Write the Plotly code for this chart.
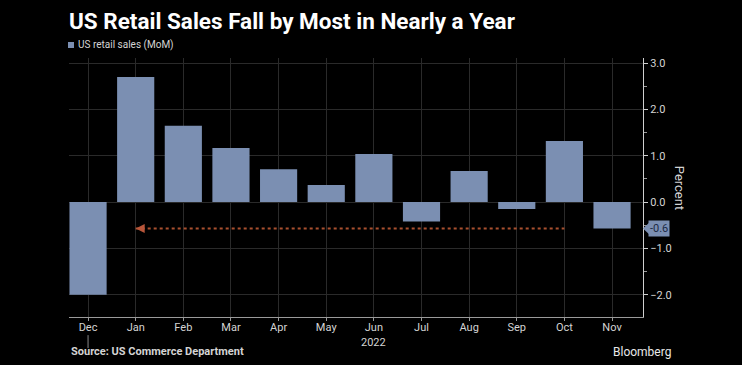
import plotly.graph_objects as go

months = ["Dec", "Jan", "Feb", "Mar", "Apr", "May", "Jun", "Jul", "Aug", "Sep", "Oct", "Nov"]
retail_mom = [-2.0, 2.7, 1.65, 1.17, 0.71, 0.37, 1.04, -0.42, 0.67, -0.15, 1.32, -0.57]
y_ticks = [-2.0, -1.0, 0.0, 1.0, 2.0, 3.0]
year_label = "2022"
series_name = "US retail sales (MoM)"
latest_label = f"{retail_mom[-1]:.1f}"

BAR = "#7b8fb2"
GRID = "#2a2a2a"
TXT = "#d4d4d4"
FONT = "Roboto, Liberation Sans, sans-serif"

# page has an 8px body margin; figure sized to fill the rest of the window
W, H = 734, 357

fig = go.Figure()
fig.add_trace(go.Bar(x=months, y=retail_mom, name=series_name, marker_color=BAR,
                     marker_line_width=0, showlegend=False))
# dotted reference line at latest value from Jan to Oct
fig.add_trace(go.Scatter(x=[months[1], months[10]], y=[retail_mom[-1]] * 2, mode="lines",
                         line=dict(color="#a9502f", width=2, dash="dot"),
                         showlegend=False, hoverinfo="skip"))
fig.add_annotation(x=months[1], y=retail_mom[-1], ax=8, ay=0, axref="pixel", ayref="pixel",
                   showarrow=True, arrowhead=2, arrowsize=1.2, arrowwidth=1.5,
                   arrowcolor="#b8563a", text="")

# legend (drawn manually)
fig.add_shape(type="rect", xref="paper", yref="paper", x0=-0.0017, x1=0.0087,
              y0=(317 - 48) / 259, y1=(317 - 42) / 259, fillcolor=BAR, line_width=0)
fig.add_annotation(xref="paper", yref="paper", x=0.012, y=(317 - 45) / 259, xanchor="left",
                   yanchor="middle", text=series_name, showarrow=False,
                   font=dict(family=FONT, size=10, color=TXT))

# latest value label on right axis
fig.add_annotation(xref="paper", yref="y", x=1.0, y=retail_mom[-1], xanchor="left",
                   yanchor="middle", xshift=5, text=latest_label, showarrow=False,
                   font=dict(family=FONT, size=11, color="#1c2a44"),
                   bgcolor=BAR, borderpad=1)
fig.add_shape(type="path", xref="paper", yref="y",
              path=f"M 1.0 {retail_mom[-1]} L 1.011 {retail_mom[-1] + 0.13} L 1.011 {retail_mom[-1] - 0.13} Z",
              fillcolor=BAR, line_width=0)

fig.add_annotation(xref="paper", yref="paper", x=1.064, y=0.5, text="Percent",
                   textangle=90, showarrow=False, xanchor="center", yanchor="middle",
                   font=dict(family=FONT, size=13, color=TXT))
fig.add_annotation(xref="x", yref="paper", x=months[6], y=-0.098, text=year_label,
                   xanchor="center", yanchor="middle",
                   showarrow=False, font=dict(family=FONT, size=11, color=TXT))
fig.add_shape(type="line", xref="x", yref="paper", x0=0, x1=0, y0=-0.07, y1=-0.12,
              line=dict(color="#888888", width=1))
fig.add_annotation(xref="paper", yref="paper", x=0.0, y=-0.135, xanchor="left",
                   yanchor="middle",
                   text="<b>Source: US Commerce Department</b>", showarrow=False,
                   font=dict(family=FONT, size=11, color=TXT))
fig.add_annotation(xref="paper", yref="paper", x=1.053, y=-0.135, xanchor="right",
                   yanchor="middle", text="Bloomberg", showarrow=False,
                   font=dict(family=FONT, size=12, color="#e8e8e8"))

fig.update_layout(
    width=W, height=H,
    paper_bgcolor="#000000", plot_bgcolor="#000000",
    margin=dict(l=61, r=W - 61 - 574, t=50, b=H - 50 - 259, autoexpand=False),
    showlegend=False,
    title=dict(text="<b>US Retail Sales Fall by Most in Nearly a Year</b>",
               xref="container", x=61 / W, xanchor="left",
               yref="container", y=1 - 13 / H, yanchor="middle",
               font=dict(family=FONT, size=22.5, color="#ffffff")),
    bargap=0.22,
    xaxis=dict(type="category", range=[-0.4, 11.65], showgrid=True, gridcolor=GRID,
               showline=True, linecolor="#9a9a9a", linewidth=1,
               ticks="outside", ticklen=3, tickcolor="#9a9a9a", ticklabelstandoff=-3,
               tickfont=dict(family=FONT, size=11, color=TXT), fixedrange=True),
    yaxis=dict(side="right", range=[-2.48, 3.11], tickvals=y_ticks, tickformat=".1f",
               showgrid=True, gridcolor=GRID, zeroline=False,
               showline=True, linecolor="#cfcfcf", linewidth=1,
               ticks="outside", ticklen=4, tickcolor="#cfcfcf",
               minor=dict(dtick=0.5, ticks="outside", ticklen=3, tickcolor="#9a9a9a", showgrid=False),
               tickfont=dict(family=FONT, size=11, color=TXT)),
)

fig.write_html("out.html",
               post_script="document.body.style.background='#000';"
                           "document.documentElement.style.background='#000';")
